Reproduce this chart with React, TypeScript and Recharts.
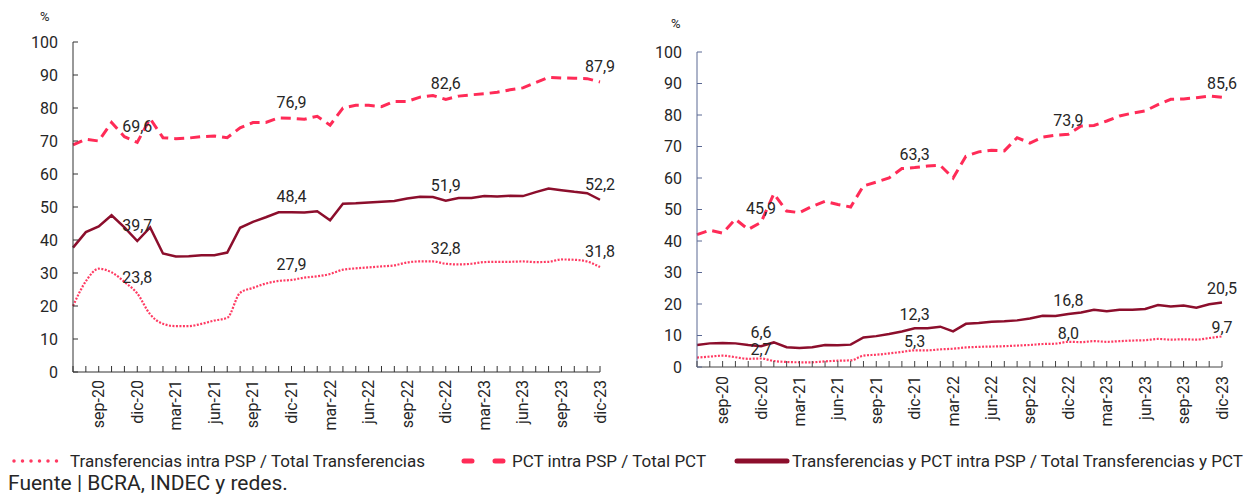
import React from 'react';
import { LineChart, Line, XAxis, YAxis, LabelList } from 'recharts';

const months = ['jul-20','ago-20','sep-20','oct-20','nov-20','dic-20','ene-21','feb-21','mar-21','abr-21','may-21','jun-21','jul-21','ago-21','sep-21','oct-21','nov-21','dic-21','ene-22','feb-22','mar-22','abr-22','may-22','jun-22','jul-22','ago-22','sep-22','oct-22','nov-22','dic-22','ene-23','feb-23','mar-23','abr-23','may-23','jun-23','jul-23','ago-23','sep-23','oct-23','nov-23','dic-23'];
const tickLabelPrefixes = ['sep', 'dic', 'mar', 'jun'];
const dataLabelMonths = ['dic-20', 'dic-21', 'dic-22', 'dic-23'];
const yTicks = [0, 10, 20, 30, 40, 50, 60, 70, 80, 90, 100];

const leftDotted = [20.0, 27.5, 31.3, 30.2, 27.3, 23.8, 17.5, 14.6, 13.9, 13.9, 14.6, 15.6, 16.4, 24.0, 25.5, 26.8, 27.6, 27.9, 28.6, 29.0, 29.7, 31.0, 31.4, 31.7, 32.0, 32.3, 33.2, 33.5, 33.5, 32.8, 32.6, 32.8, 33.3, 33.4, 33.4, 33.5, 33.3, 33.4, 34.1, 34.0, 33.5, 31.8];
const leftDashed = [68.8, 70.5, 70.0, 75.6, 71.3, 69.6, 76.8, 71.0, 70.7, 70.9, 71.3, 71.5, 71.0, 74.0, 75.6, 75.6, 77.0, 76.9, 76.6, 77.5, 74.8, 80.0, 80.8, 80.8, 80.4, 82.0, 82.0, 83.3, 83.8, 82.6, 83.6, 84.0, 84.3, 84.8, 85.5, 86.1, 87.7, 89.3, 89.1, 89.0, 88.9, 87.9];
const leftSolid = [37.7, 42.4, 44.1, 47.5, 43.8, 39.7, 43.8, 35.9, 35.0, 35.1, 35.4, 35.4, 36.2, 43.7, 45.5, 46.9, 48.4, 48.4, 48.3, 48.7, 46.0, 51.0, 51.1, 51.4, 51.6, 51.8, 52.6, 53.1, 53.0, 51.9, 52.7, 52.7, 53.3, 53.2, 53.4, 53.3, 54.5, 55.6, 55.1, 54.6, 54.2, 52.2];

const rightDotted = [3.0, 3.3, 3.6, 3.1, 2.6, 2.7, 1.9, 1.6, 1.5, 1.5, 1.8, 2.0, 2.1, 3.6, 3.9, 4.3, 4.8, 5.3, 5.3, 5.6, 5.8, 6.2, 6.4, 6.5, 6.6, 6.8, 7.0, 7.3, 7.4, 8.0, 7.9, 8.2, 8.0, 8.2, 8.4, 8.5, 8.9, 8.7, 8.8, 8.7, 9.2, 9.7];
const rightDashed = [42.0, 43.4, 42.5, 46.9, 43.7, 45.9, 55.0, 49.5, 49.0, 51.0, 52.6, 51.6, 50.8, 57.5, 58.7, 60.0, 63.0, 63.3, 63.8, 64.0, 60.0, 66.9, 68.3, 68.8, 68.6, 72.8, 71.1, 73.0, 73.6, 73.9, 76.5, 76.7, 78.1, 79.7, 80.6, 81.3, 83.3, 85.0, 85.1, 85.5, 86.0, 85.6];
const rightSolid = [7.0, 7.5, 7.6, 7.5, 7.0, 6.6, 7.8, 6.3, 6.0, 6.3, 7.0, 6.9, 7.1, 9.4, 9.8, 10.5, 11.3, 12.3, 12.3, 12.8, 11.3, 13.7, 14.0, 14.4, 14.5, 14.8, 15.4, 16.3, 16.2, 16.8, 17.3, 18.2, 17.7, 18.2, 18.2, 18.4, 19.7, 19.2, 19.5, 18.8, 19.9, 20.5];

const seriesNames = [
  'Transferencias intra PSP / Total Transferencias',
  'PCT intra PSP / Total PCT',
  'Transferencias y PCT intra PSP / Total Transferencias y PCT',
];
const sourceText = 'Fuente | BCRA, INDEC y redes.';

const leftData = months.map((m, i) => ({ m, dotted: leftDotted[i], dashed: leftDashed[i], solid: leftSolid[i] }));
const rightData = months.map((m, i) => ({ m, dotted: rightDotted[i], dashed: rightDashed[i], solid: rightSolid[i] }));

const FONT = 'Roboto, "Noto Sans", sans-serif';
const TEXT = '#262626';
const C_DASH = '#FF2B57';
const C_DOT = '#FF3A62';
const C_SOLID = '#8C0E2C';

const fmt = (v: number) => v.toFixed(1).replace('.', ',');

const makeXTick = (color: string, gap: number) => (props: any) => {
  const { x, y, payload } = props;
  const label: string = payload.value;
  const show = tickLabelPrefixes.includes(label.slice(0, 3));
  return (
    <g>
      <line x1={x} y1={y} x2={x} y2={y - 6} stroke={color} strokeWidth={1} />
      {show && (
        <text
          x={x}
          y={y + gap}
          transform={`rotate(-90, ${x}, ${y + gap})`}
          textAnchor="end"
          dominantBaseline="central"
          fontSize={16}
          fontFamily={FONT}
          fill={TEXT}
        >
          {label}
        </text>
      )}
    </g>
  );
};

const makeYTick = (color: string) => (props: any) => {
  const { x, y, payload } = props;
  return (
    <g>
      <line x1={x} y1={y} x2={x + 5} y2={y} stroke={color} strokeWidth={1} />
      <text x={x - 15} y={y} textAnchor="end" dominantBaseline="central" fontSize={16} fontFamily={FONT} fill={TEXT}>
        {payload.value}
      </text>
    </g>
  );
};

const makeLabel = (offset: number, dx = 0) => (props: any) => {
  const { x, y, value, index } = props;
  if (index == null || !dataLabelMonths.includes(months[index])) return null;
  return (
    <text x={x + dx} y={y - offset} textAnchor="middle" fontSize={16} fontFamily={FONT} fill={TEXT}>
      {fmt(Number(value))}
    </text>
  );
};

function Panel(props: { data: any[]; width: number; height: number; top: number; right: number; yWidth: number; xHeight: number; yColor: string; xColor: string; labelGap: number; offsets: [number, number, number] }) {
  const { data, width, height, top, right, yWidth, xHeight, yColor, xColor, labelGap, offsets } = props;
  return (
    <LineChart width={width} height={height} data={data} margin={{ top, right, bottom: 0, left: 0 }}>
      <XAxis
        dataKey="m"
        interval={0}
        height={xHeight}
        tickSize={0}
        tickMargin={0}
        tickLine={false}
        axisLine={{ stroke: xColor, strokeWidth: 1 }}
        tick={makeXTick(xColor, labelGap)}
      />
      <YAxis
        domain={[0, 100]}
        ticks={yTicks}
        interval={0}
        width={yWidth}
        tickSize={0}
        tickMargin={0}
        tickLine={false}
        axisLine={{ stroke: yColor, strokeWidth: 1 }}
        tick={makeYTick(yColor)}
      />
      <Line type="monotone" dataKey="dotted" stroke={C_DOT} strokeWidth={2.2} strokeDasharray="2 1.5" dot={false} activeDot={false} isAnimationActive={false}>
        <LabelList dataKey="dotted" content={makeLabel(offsets[0])} />
      </Line>
      <Line type="linear" dataKey="dashed" stroke={C_DASH} strokeWidth={3} strokeDasharray="10 6" dot={false} activeDot={false} isAnimationActive={false}>
        <LabelList dataKey="dashed" content={makeLabel(offsets[1])} />
      </Line>
      <Line type="linear" dataKey="solid" stroke={C_SOLID} strokeWidth={2.5} dot={false} activeDot={false} isAnimationActive={false}>
        <LabelList dataKey="solid" content={makeLabel(offsets[2])} />
      </Line>
    </LineChart>
  );
}

export default function App() {
  return (
    <div style={{ position: 'absolute', left: 0, top: 0, width: 1251, height: 495, background: '#fff', fontFamily: FONT, color: TEXT, overflow: 'hidden' }}>
      <div style={{ position: 'absolute', left: 0, top: 0 }}>
        <Panel data={leftData} width={620} height={440} top={42} right={20} yWidth={73} xHeight={68} yColor="#333333" xColor="#333333" labelGap={8} offsets={[10, 10, 10]} />
      </div>
      <div style={{ position: 'absolute', left: 620, top: 0 }}>
        <Panel data={rightData} width={631} height={440} top={52} right={29} yWidth={77} xHeight={73} yColor="#5A6893" xColor="#444444" labelGap={9} offsets={[3, 8, 8]} />
      </div>
      <div style={{ position: 'absolute', left: 40, top: 9, fontSize: 13 }}>%</div>
      <div style={{ position: 'absolute', left: 671, top: 16, fontSize: 13 }}>%</div>

      <div style={{ position: 'absolute', left: 0, top: 451, width: 1251, height: 20, fontSize: 17, lineHeight: '20px', whiteSpace: 'nowrap' }}>
        <svg style={{ position: 'absolute', left: 10, top: 0 }} width={56} height={20}>
          <line x1={4} y1={10} x2={52} y2={10} stroke={C_DOT} strokeWidth={3.5} strokeLinecap="round" strokeDasharray="0 8.5" />
        </svg>
        <span style={{ position: 'absolute', left: 70, top: 0 }}>{seriesNames[0]}</span>
        <svg style={{ position: 'absolute', left: 455, top: 0 }} width={56} height={20}>
          <line x1={9} y1={10} x2={48} y2={10} stroke={C_DASH} strokeWidth={5} strokeLinecap="round" strokeDasharray="8 23" />
        </svg>
        <span style={{ position: 'absolute', left: 512, top: 0 }}>{seriesNames[1]}</span>
        <svg style={{ position: 'absolute', left: 733, top: 0 }} width={58} height={20}>
          <line x1={4} y1={10} x2={54} y2={10} stroke={C_SOLID} strokeWidth={5} strokeLinecap="round" />
        </svg>
        <span style={{ position: 'absolute', left: 792, top: 0 }}>{seriesNames[2]}</span>
      </div>
      <div style={{ position: 'absolute', left: 8, top: 471, fontSize: 21, lineHeight: '24px', whiteSpace: 'nowrap' }}>{sourceText}</div>
    </div>
  );
}
